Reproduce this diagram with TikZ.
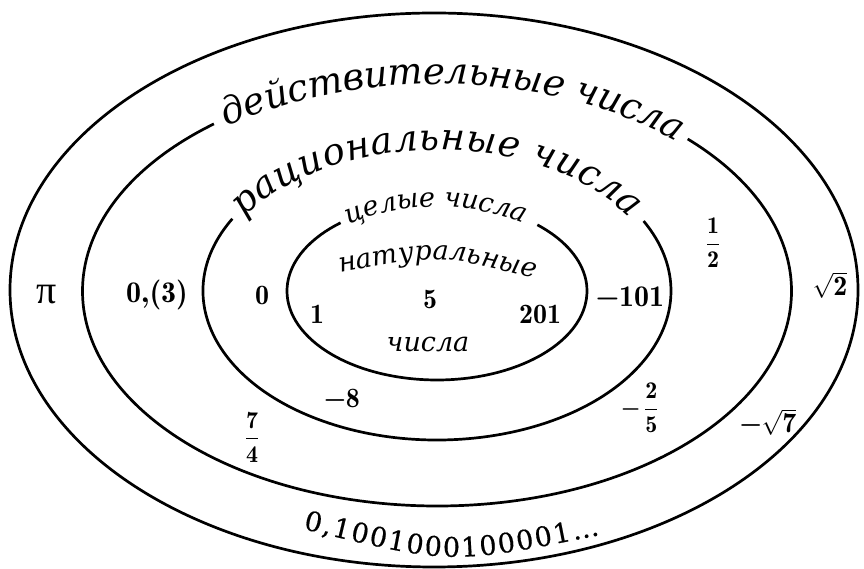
\documentclass[tikz,border=0pt]{standalone}
\usepackage{amsmath}
\usepackage{fontspec}
\usetikzlibrary{decorations.text}
\newfontfamily\cyrfont{DejaVu Serif}
\newfontfamily\decfont{DejaVu Serif}[FakeBold=0.6]
\newfontfamily\pifont{Liberation Serif}
\newcommand\bigcyrfmt{\cyrfont\itshape\fontsize{37}{37}\selectfont}
\newcommand\smallcyrfmt{\cyrfont\itshape\fontsize{27}{27}\selectfont}
\newcommand\decfmt{\decfont\fontsize{27}{27}\selectfont}
\newcommand\numfmt{\rmfamily\fontseries{b}\selectfont}
\begin{document}
\begin{tikzpicture}[x=1pt,y=1pt,
  ring/.style={line width=2.7pt},
  num/.style={inner sep=0pt, font=\fontsize{30}{30}\numfmt},
  smallnum/.style={inner sep=0pt, font=\fontsize{28}{28}\numfmt},
  mathnum/.style={inner sep=0pt, font=\fontsize{24}{24}\numfmt},
  rootnum/.style={inner sep=0pt, font=\fontsize{28}{28}\numfmt},
  lab/.style={inner sep=0pt, font=\smallcyrfmt}]
\useasboundingbox (0,0) rectangle (864,569);
\coordinate (c1) at (434,279);
\coordinate (c2) at (437,278);
% rings
\draw[ring] (c1) ellipse [x radius=424, y radius=277];
\draw[ring] ([shift={(c2)}]129:354.5 and 215) arc[start angle=129, end angle=405, x radius=354.5, y radius=215];
\draw[ring] ([shift={(c2)}]151:234 and 149) arc[start angle=151, end angle=388, x radius=234, y radius=149];
\draw[ring] ([shift={(c2)}]130:150 and 89) arc[start angle=130, end angle=408, x radius=150, y radius=89];
% curved labels
\path[decorate, decoration={text along path, text={|\bigcyrfmt|действительные числа}, text align={fit to path}, raise=-8pt}]
  ([shift={(c2)}]127:354.5 and 215) arc[start angle=127, end angle=48.5, x radius=354.5, y radius=215];
\path[decorate, decoration={text along path, text={|\bigcyrfmt|рациональные числа}, text align={fit to path}, raise=-8pt}]
  ([shift={(c2)}]148:234 and 149) arc[start angle=148, end angle=32, x radius=234, y radius=149];
\path[decorate, decoration={text along path, text={|\smallcyrfmt|целые числа}, text align={fit to path}, raise=-5pt}]
  ([shift={(c2)}]127:150 and 89) arc[start angle=127, end angle=54, x radius=150, y radius=89];
\coordinate (natA) at (340,296);
\coordinate (natC) at (437,315);
\coordinate (natB) at (535,291);
\path[decorate, decoration={text along path, text={|\smallcyrfmt|натуральные}, text align={fit to path}}]
  (natA) .. controls (natC) .. (natB);
\coordinate (decA) at (303,40);
\coordinate (decC) at (451,4);
\coordinate (decB) at (600,34);
\path[decorate, decoration={text along path, text={|\decfmt|0,1001000100001…}, text align={fit to path}}]
  (decA) .. controls (decC) .. (decB);
% numbers
\node[inner sep=0pt, font=\pifont\fontsize{40}{40}\selectfont] (pi) at (47,274) {π};
\node[num] (q3) at (157,274) {0,(3)};
\node[smallnum] (zero) at (262,274) {0};
\node[smallnum] (five) at (430,270) {5};
\node[smallnum] (one) at (317,255) {1};
\node[smallnum] (n201) at (540,255) {201};
\node[num] (m101) at (630,272) {−101};
\node[smallnum] (m8) at (342,171) {−8};
\node[mathnum] (f74) at (252,132) {$\dfrac{\text{7}}{\text{4}}$};
\node[mathnum] (f25) at (640,161) {−\,$\dfrac{\text{2}}{\text{5}}$};
\node[mathnum] (f12) at (713,326) {$\dfrac{\text{1}}{\text{2}}$};
\node[rootnum] (r2) at (830,284) {$\sqrt{\text{2}}$};
\node[rootnum] (r7) at (768,147) {−$\sqrt{\text{7}}$};
\node[lab, anchor=base] (chisla) at (428,217) {числа};
\end{tikzpicture}
\end{document}
